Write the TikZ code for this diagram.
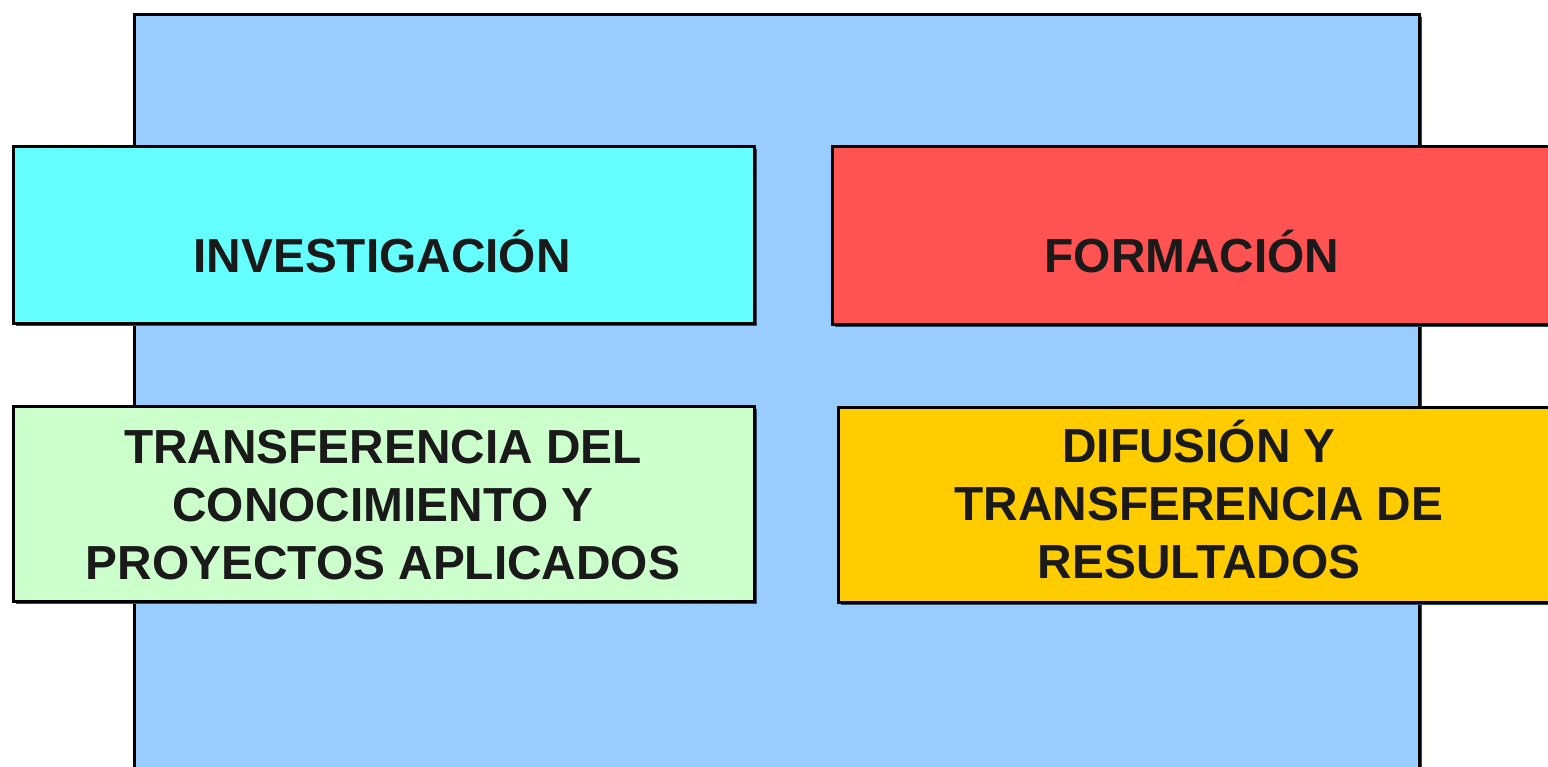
\documentclass[tikz,border=0pt]{standalone}
\usepackage{fontspec}
\setmainfont{Liberation Sans}
\usetikzlibrary{shadows}
\definecolor{bgblue}{HTML}{99CCFF}
\definecolor{cyanbox}{HTML}{66FFFF}
\definecolor{redbox}{HTML}{FF5252}
\definecolor{greenbox}{HTML}{CCFFCC}
\definecolor{yellowbox}{HTML}{FFCC00}
\definecolor{shadowcol}{HTML}{2E4A6A}
\definecolor{txt}{HTML}{1A1A1A}
\tikzset{
  x=1pt, y=-1pt,
  panel/.style={draw=black, line width=2.8pt, inner sep=0pt, anchor=north west,
    drop shadow={shadow xshift=3pt, shadow yshift=-3pt, fill=shadowcol, opacity=1}},
  label/.style={font=\fontsize{47.8pt}{58pt}\selectfont\bfseries, text=txt, align=center, inner sep=0pt}
}
\begin{document}
\begin{tikzpicture}
\useasboundingbox (0,0) rectangle (1548,767);
\begin{scope}
\clip (0,0) rectangle (1548,767);
\node[panel, fill=bgblue, minimum width=1285pt, minimum height=780pt] (bg) at (133,13) {};
\node[panel, fill=cyanbox, minimum width=741pt, minimum height=177pt] (inv) at (12,145) {};
\node[panel, fill=redbox, minimum width=722pt, minimum height=178pt] (for) at (831,145) {};
\node[panel, fill=greenbox, minimum width=741pt, minimum height=195pt] (tra) at (12,405) {};
\node[panel, fill=yellowbox, minimum width=725pt, minimum height=195pt] (dif) at (837,406) {};
\end{scope}
\node[label] (tinv) at (382,252) {INVESTIGACIÓN};
\node[label] (tfor) at (1192,252) {FORMACIÓN};
\node[label] (ttra) at (383,505) {TRANSFERENCIA DEL\\CONOCIMIENTO Y\\PROYECTOS APLICADOS};
\node[label] (tdif) at (1199,500) {DIFUSIÓN Y\\TRANSFERENCIA DE\\RESULTADOS};
\end{tikzpicture}
\end{document}
